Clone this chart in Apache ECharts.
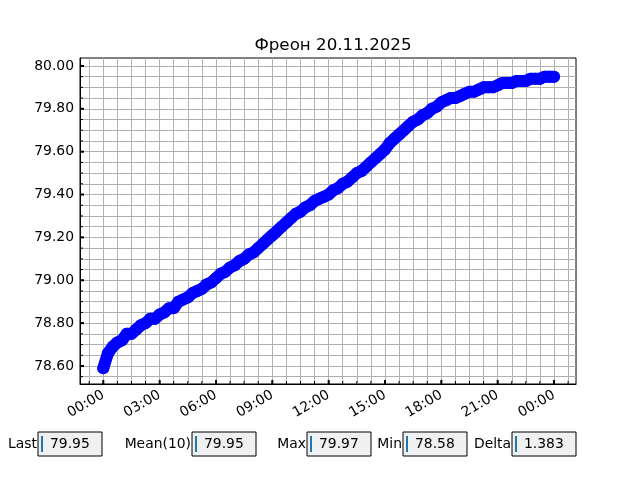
<!DOCTYPE html>
<html>
<head>
<meta charset="utf-8">
<script src="https://cdn.jsdelivr.net/npm/echarts@6/dist/echarts.min.js"></script>
<style>
  html, body { margin: 0; padding: 0; background: #fff; }
  #chart { width: 640px; height: 480px; }
</style>
</head>
<body>
<div id="chart"></div>
<script>
// readings every 15 minutes, 20.11.2025 00:00 .. 21.11.2025 00:00
const stepMinutes = 15;
const values = [
  78.59, 78.66, 78.69, 78.71,
  78.72, 78.75, 78.75, 78.77,
  78.79, 78.80, 78.82, 78.82,
  78.84, 78.85, 78.87, 78.87,
  78.90, 78.91, 78.92, 78.94,
  78.95, 78.96, 78.98, 78.99,
  79.01, 79.03, 79.04, 79.06,
  79.07, 79.09, 79.10, 79.12,
  79.13, 79.15, 79.17, 79.19,
  79.21, 79.23, 79.25, 79.27,
  79.29, 79.31, 79.32, 79.34,
  79.35, 79.37, 79.38, 79.39,
  79.40, 79.42, 79.43, 79.45,
  79.46, 79.48, 79.50, 79.51,
  79.53, 79.55, 79.57, 79.59,
  79.61, 79.64, 79.66, 79.68,
  79.70, 79.72, 79.74, 79.75,
  79.77, 79.78, 79.80, 79.81,
  79.83, 79.84, 79.85, 79.85,
  79.86, 79.87, 79.88, 79.88,
  79.89, 79.90, 79.90, 79.90,
  79.91, 79.92, 79.92, 79.92,
  79.93, 79.93, 79.93, 79.94,
  79.94, 79.94, 79.95, 79.95,
  79.95
];

// axis ticks (hours from midnight / degrees)
const xMajor = [0, 3, 6, 9, 12, 15, 18, 21, 24];
const xMinor = [-0.75, 0, 0.75, 1.5, 2.25, 3, 3.75, 4.5, 5.25, 6, 6.75, 7.5, 8.25, 9, 9.75, 10.5, 11.25,
  12, 12.75, 13.5, 14.25, 15, 15.75, 16.5, 17.25, 18, 18.75, 19.5, 20.25, 21, 21.75, 22.5, 23.25, 24, 24.75];
const yMajor = [78.6, 78.8, 79.0, 79.2, 79.4, 79.6, 79.8, 80.0];
const yMinor = [78.55, 78.6, 78.65, 78.7, 78.75, 78.8, 78.85, 78.9, 78.95, 79.0, 79.05, 79.1, 79.15, 79.2,
  79.25, 79.3, 79.35, 79.4, 79.45, 79.5, 79.55, 79.6, 79.65, 79.7, 79.75, 79.8, 79.85, 79.9, 79.95, 80.0];

// text boxes under the chart
const boxLabels = ['Last', 'Mean(10)', 'Max', 'Min', 'Delta'];
const boxValues = ['79.95', '79.95', '79.97', '78.58', '1.383'];

const font = 'DejaVu Sans';
const xMin = -1.24, xMax = 25.17, yMin = 78.516, yMax = 80.037;
const data = values.map((v, i) => [i * stepMinutes / 60, v]);

function hourLabel(v) {
  let h = Math.round(v) % 24;
  return (h < 10 ? '0' + h : '' + h) + ':00';
}

// text boxes
const boxX = [38, 192, 307, 403, 512];
let graphic = [];
boxLabels.forEach((name, i) => {
  let x = boxX[i];
  graphic.push({
    type: 'text', x: x - 1, y: 444,
    style: { text: name, font: '13.9px "DejaVu Sans"', fill: '#000', align: 'right', verticalAlign: 'middle' }
  });
  graphic.push({
    type: 'rect', x: x, y: 432,
    shape: { width: 64, height: 24 },
    style: { fill: '#f0f0f0', stroke: '#000', lineWidth: 1 }
  });
  graphic.push({
    type: 'line',
    shape: { x1: x + 4, y1: 436, x2: x + 4, y2: 452 },
    style: { stroke: '#1f77b4', lineWidth: 2 }
  });
  graphic.push({
    type: 'text', x: x + 12, y: 444,
    style: { text: boxValues[i], font: '13.9px "DejaVu Sans"', fill: '#000', align: 'left', verticalAlign: 'middle' }
  });
});

var myChart = echarts.init(document.getElementById('chart'), null, { renderer: 'canvas' });

var option = {
  backgroundColor: '#fff',
  animation: false,
  textStyle: { fontFamily: font },
  title: {
    text: 'Фреон 20.11.2025',
    left: 328,
    textAlign: 'center',
    top: 32,
    textStyle: { fontFamily: font, fontSize: 16.7, fontWeight: 'normal', color: '#000' }
  },
  grid: {
    show: true, borderColor: '#000', borderWidth: 1, backgroundColor: 'transparent',
    left: 80, right: 64, top: 58, bottom: 96
  },
  xAxis: {
    type: 'value', min: xMin, max: xMax,
    axisLine: { show: true, onZero: false, lineStyle: { color: '#000', width: 1 } },
    axisTick: { show: false, customValues: xMinor },
    axisLabel: {
      customValues: xMajor, rotate: 30, margin: 10, color: '#000',
      fontFamily: font, fontSize: 13.9, formatter: hourLabel
    },
    splitLine: { show: true, lineStyle: { color: '#b0b0b0', width: 1 } }
  },
  yAxis: {
    type: 'value', min: yMin, max: yMax,
    axisLine: { show: true, onZero: false, lineStyle: { color: '#000', width: 1 } },
    axisTick: { show: false, customValues: yMinor },
    axisLabel: {
      customValues: yMajor, margin: 6, color: '#000',
      fontFamily: font, fontSize: 13.9, formatter: v => v.toFixed(2)
    },
    splitLine: { show: true, lineStyle: { color: '#b0b0b0', width: 1 } }
  },
  series: [
    {
      name: 'Фреон',
      type: 'line',
      data: data,
      symbol: 'circle',
      symbolSize: 12,
      showSymbol: true,
      lineStyle: { color: '#0000ff', width: 12, cap: 'round', join: 'round' },
      itemStyle: { color: '#0000ff' },
      z: 5
    }
  ],
  graphic: graphic
};

option && myChart.setOption(option);

// inward tick marks, placed through the chart's own scales
function tickMark(x1, y1, x2, y2, w) {
  return { type: 'line', z: 100, shape: { x1: x1, y1: y1, x2: x2, y2: y2 }, style: { stroke: '#000', lineWidth: w } };
}
let ticks = [];
xMinor.forEach(v => {
  let p = myChart.convertToPixel({ gridIndex: 0 }, [v, yMin]);
  ticks.push(tickMark(p[0], p[1], p[0], p[1] - 3, 1));
});
xMajor.forEach(v => {
  let p = myChart.convertToPixel({ gridIndex: 0 }, [v, yMin]);
  ticks.push(tickMark(p[0], p[1], p[0], p[1] - 4, 2));
});
yMinor.forEach(v => {
  let p = myChart.convertToPixel({ gridIndex: 0 }, [xMin, v]);
  ticks.push(tickMark(p[0], p[1], p[0] + 3, p[1], 1));
});
yMajor.forEach(v => {
  let p = myChart.convertToPixel({ gridIndex: 0 }, [xMin, v]);
  ticks.push(tickMark(p[0], p[1], p[0] + 4, p[1], 2));
});
myChart.setOption({ graphic: graphic.concat(ticks) });
</script>
</body>
</html>
